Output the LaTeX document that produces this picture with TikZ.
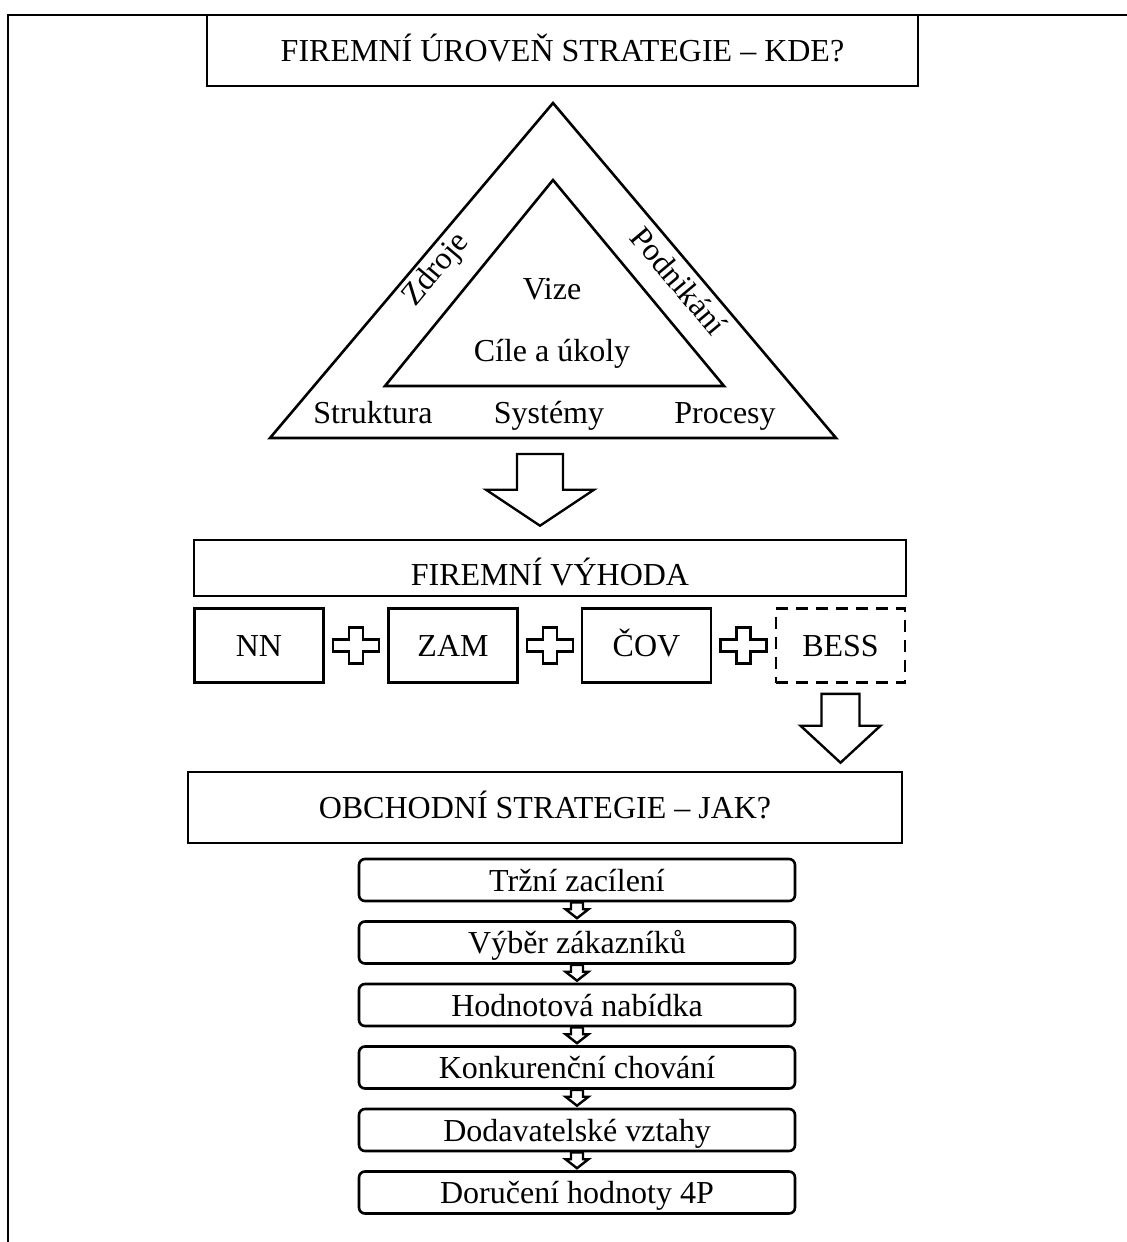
\documentclass[tikz,border=0pt]{standalone}
\usepackage{fontspec}
\setmainfont{Liberation Serif}
\usetikzlibrary{calc}
\tikzstyle{arrowline}=[line width=1.2pt,fill=white,line join=miter]

% hollow block arrow from #1 down to #2
\newcommand{\blockarrow}[5]{%
  \draw[arrowline] let \p1=(#1), \p2=(#2) in
    (\x1-#3,\y1) -- (\x1+#3,\y1) -- (\x1+#3,\y2+#5) -- (\x1+#4,\y2+#5)
    -- (\x1,\y2) -- (\x1-#4,\y2+#5) -- (\x1-#3,\y2+#5) -- cycle;}
% plus sign between two nodes
\newcommand{\plussign}[2]{%
  \draw[arrowline,shift={($(#1.east)!.5!(#2.west)$)}] (-7,-18) -- (7,-18) -- (7,-6) -- (23,-6)
    -- (23,6) -- (7,6) -- (7,18) -- (-7,18) -- (-7,6) -- (-23,6) -- (-23,-6) -- (-7,-6) -- cycle;}

\begin{document}
\begin{tikzpicture}[x=0.5pt,y=-0.5pt,font=\fontsize{16}{19}\selectfont]
    \tikzstyle{lbl}=[inner sep=0pt,text height=13pt,text depth=2pt]
    \tikzstyle{box}=[lbl,draw,line width=1.3pt]
    \tikzstyle{bigbox}=[box,minimum width=356pt,minimum height=35.5pt]
    \tikzstyle{smallbox}=[box,minimum width=64.5pt,minimum height=37pt]
    \tikzstyle{stepbox}=[box,rounded corners=3pt,minimum width=218pt,minimum height=21pt]
    \tikzstyle{triline}=[line width=1.3pt,line join=miter]
    \useasboundingbox (0,0) rectangle (1127,1242);
    \draw[line width=1.3pt] (1127,15) -- (8,15) -- (8,1242);
    \node[bigbox,minimum width=355.5pt] (kde) at (562.5,50.5) {FIREMNÍ ÚROVEŇ STRATEGIE – KDE?};
    % triangle
    \coordinate (outA) at (553,103);
    \coordinate (outB) at (836,438);
    \coordinate (outC) at (270,438);
    \coordinate (inA) at (553,180);
    \coordinate (inB) at (724,386);
    \coordinate (inC) at (385,386);
    \draw[triline] (outA) -- (outB) -- (outC) -- cycle;
    \draw[triline] (inA) -- (inB) -- (inC) -- cycle;
    \node[lbl] (vize) at (552,288) {Vize};
    \node[lbl] (cile) at (552,350) {Cíle a úkoly};
    \node[lbl] (struktura) at (373,412) {Struktura};
    \node[lbl] (systemy) at (549,412) {Systémy};
    \node[lbl] (procesy) at (725,412) {Procesy};
    \node[lbl,rotate=50] (zdroje) at (434,268) {Zdroje};
    \node[lbl,rotate=-50] (podnikani) at (679,281) {Podnikání};
    \node[box,minimum width=356pt,minimum height=28pt,text height=17pt,text depth=0pt] (vyhoda) at (550,568) {FIREMNÍ VÝHODA};
    \coordinate (tribase) at (540,438);
    \blockarrow{$(tribase)+(0,16)$}{$(tribase|-vyhoda.north)+(0,-13)$}{11.5pt}{27pt}{18pt}
    \node[smallbox] (nn) at (259,645.5) {NN};
    \node[smallbox] (zam) at (453,645.5) {ZAM};
    \node[smallbox] (cov) at (646.5,645.5) {ČOV};
    \node[smallbox,dash pattern=on 6pt off 4pt] (bess) at (840.5,645.5) {BESS};
    \plussign{nn}{zam}
    \plussign{zam}{cov}
    \plussign{cov}{bess}
    \node[bigbox,minimum width=357pt] (jak) at (545,807.5) {OBCHODNÍ STRATEGIE – JAK?};
    \blockarrow{$(bess.south)+(0,10)$}{$(bess.south|-jak.north)+(0,-8)$}{9.5pt}{20pt}{18.5pt}
    \node[stepbox] (trh) at (577,880) {Tržní zacílení};
    \node[stepbox] (vyber) at (577,942.5) {Výběr zákazníků};
    \node[stepbox] (nabidka) at (577,1005) {Hodnotová nabídka};
    \node[stepbox] (konkurence) at (577,1067.5) {Konkurenční chování};
    \node[stepbox] (dodavatele) at (577,1130) {Dodavatelské vztahy};
    \node[stepbox] (doruceni) at (577,1192.5) {Doručení hodnoty 4P};
    \blockarrow{trh.south}{$(vyber.north)+(0,-2)$}{3pt}{5.75pt}{4.5pt}
    \blockarrow{vyber.south}{$(nabidka.north)+(0,-2)$}{3pt}{5.75pt}{4.5pt}
    \blockarrow{nabidka.south}{$(konkurence.north)+(0,-2)$}{3pt}{5.75pt}{4.5pt}
    \blockarrow{konkurence.south}{$(dodavatele.north)+(0,-2)$}{3pt}{5.75pt}{4.5pt}
    \blockarrow{dodavatele.south}{$(doruceni.north)+(0,-2)$}{3pt}{5.75pt}{4.5pt}
\end{tikzpicture}
\end{document}
